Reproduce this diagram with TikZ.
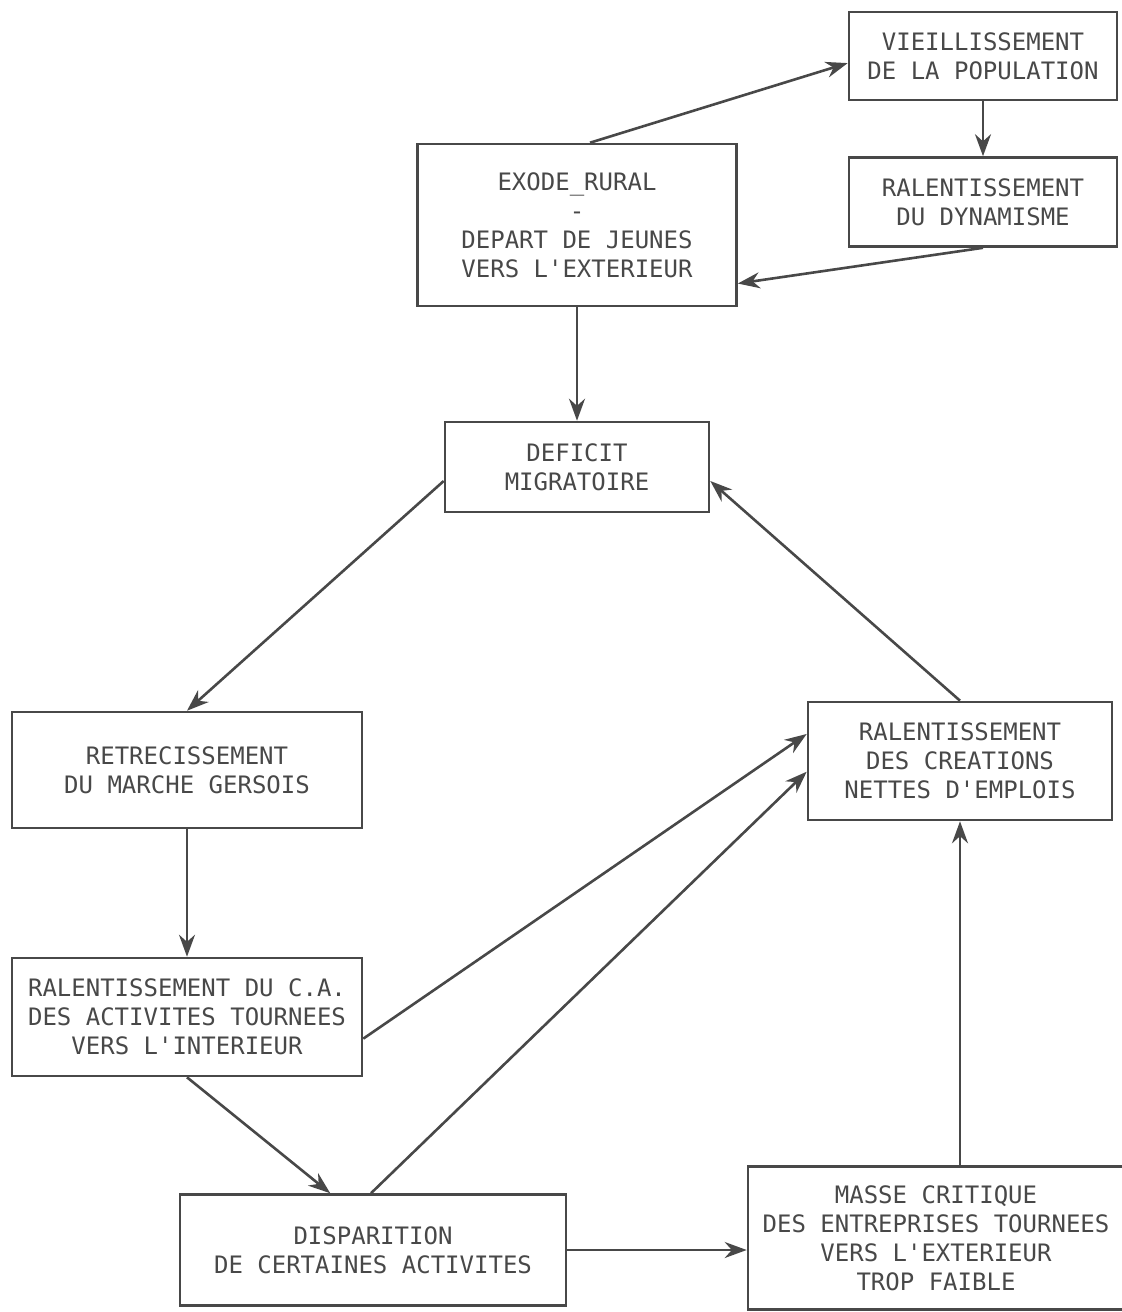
\documentclass[tikz,border=0pt]{standalone}
\usepackage{fontspec}
\newfontfamily\boxfont{DejaVu Sans Mono}
\usetikzlibrary{arrows.meta}
\definecolor{ink}{RGB}{72,72,72}
\tikzstyle{box}=[rectangle,draw=ink,line width=1.3pt,text=ink,align=center,
  font=\boxfont\fontsize{12}{14.5}\selectfont,inner sep=0pt]
\tikzstyle{arr}=[draw=ink,line width=1.3pt,-{Stealth[length=11pt,width=8pt]}]

\begin{document}
\begin{tikzpicture}[x=0.5pt,y=-0.5pt]
    \useasboundingbox (0,0) rectangle (1121,1312);
    \node [style=box,minimum width=134pt,minimum height=44pt] (vieil) at (983,56) {VIEILLISSEMENT\\DE LA POPULATION};
    \node [style=box,minimum width=134pt,minimum height=44.5pt] (raldyn) at (983,202) {RALENTISSEMENT\\DU DYNAMISME};
    \node [style=box,minimum width=159.5pt,minimum height=81pt] (exode) at (577,225) {EXODE\_RURAL\\-\\DEPART DE JEUNES\\VERS L'EXTERIEUR};
    \node [style=box,minimum width=132pt,minimum height=45pt] (deficit) at (577,467) {DEFICIT\\MIGRATOIRE};
    \node [style=box,minimum width=175pt,minimum height=58pt] (retrec) at (187,770) {RETRECISSEMENT\\DU MARCHE GERSOIS};
    \node [style=box,minimum width=175pt,minimum height=59pt] (ralca) at (187,1017) {RALENTISSEMENT DU C.A.\\DES ACTIVITES TOURNEES\\VERS L'INTERIEUR};
    \node [style=box,minimum width=193pt,minimum height=55.5pt] (disp) at (373,1250) {DISPARITION\\DE CERTAINES ACTIVITES};
    \node [style=box,minimum width=188pt,minimum height=71.5pt] (masse) at (936,1238) {MASSE CRITIQUE\\DES ENTREPRISES TOURNEES\\VERS L'EXTERIEUR\\TROP FAIBLE};
    \node [style=box,minimum width=152pt,minimum height=59pt] (ralcreat) at (960,761) {RALENTISSEMENT\\DES CREATIONS\\NETTES D'EMPLOIS};
    \draw [style=arr] (exode.81) to (vieil.183);
    \draw [style=arr] (vieil.south) to (raldyn.north);
    \draw [style=arr] (raldyn.south) to (exode.-20);
    \draw [style=arr] (exode.south) to (deficit.north);
    \draw [style=arr] (deficit.186) to (retrec.north);
    \draw [style=arr] (ralcreat.north) to (deficit.-6);
    \draw [style=arr] (retrec.south) to (ralca.north);
    \draw [style=arr] (ralca.-7) to (ralcreat.170);
    \draw [style=arr] (ralca.south) to (disp.127);
    \draw [style=arr] (disp.92) to (ralcreat.184);
    \draw [style=arr] (disp.east) to (disp.east -| masse.west);
    \draw [style=arr] (ralcreat.south |- masse.north) to (ralcreat.south);
  \end{tikzpicture}
\end{document}
